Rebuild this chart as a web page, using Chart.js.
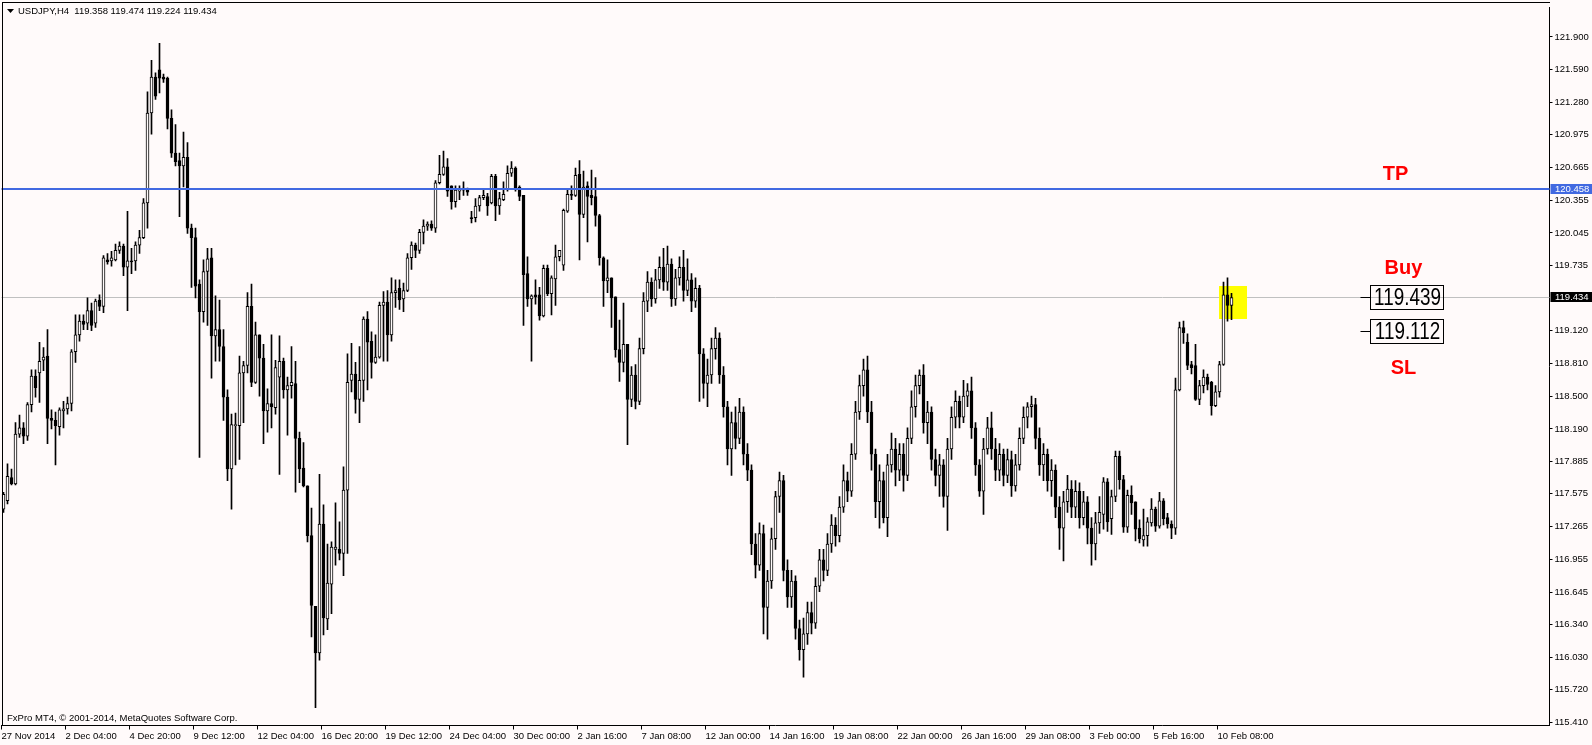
<!DOCTYPE html>
<html><head><meta charset="utf-8">
<script src="https://cdn.jsdelivr.net/npm/chart.js@4.4.1/dist/chart.umd.min.js"></script>
<style>html,body{margin:0;padding:0;background:#FFFAFA;overflow:hidden}canvas{display:block}</style>
</head><body><canvas id="c" width="1592" height="745"></canvas>
<script>
const symbolTitle = 'USDJPY,H4';
const copyrightText = 'FxPro MT4, \u00A9 2001-2014, MetaQuotes Software Corp.';
const timeLabels = ['27 Nov 2014','2 Dec 04:00','4 Dec 20:00','9 Dec 12:00','12 Dec 04:00','16 Dec 20:00','19 Dec 12:00','24 Dec 04:00','30 Dec 00:00','2 Jan 16:00','7 Jan 08:00','12 Jan 00:00','14 Jan 16:00','19 Jan 08:00','22 Jan 00:00','26 Jan 16:00','29 Jan 08:00','3 Feb 00:00','5 Feb 16:00','10 Feb 08:00'];
const yTicks = [121.900,121.590,121.280,120.975,120.665,120.355,120.045,119.735,119.120,118.810,118.500,118.190,117.885,117.575,117.265,116.955,116.645,116.340,116.030,115.720,115.410];
const tpLevel = 120.458;
const bidLevel = 119.434;
const priceBoxes = [{value:119.439, bar:342},{value:119.112, bar:342}];
const textNotes = [{text:'TP', bar:348, price:120.594},{text:'Buy', bar:350, price:119.708},{text:'SL', bar:350, price:118.76}];
const highlight = {fromBar:304, toBar:311, top:119.543, bottom:119.228};

const opensA = [117.43,117.51,117.73,117.67,118.14,118.20,118.12,118.42,118.69,118.72,
118.84,118.88,118.29,118.27,118.21,118.36,118.38,118.43,118.92,119.08,
119.21,119.19,119.31,119.19,119.41,119.35,119.79,119.78,119.79,119.88,
119.92,119.72,119.78,119.78,119.93,120.00,120.33,121.18,121.52,121.59,
121.52,121.51,121.13,120.80,120.73,120.68,120.76,120.09,120.00,119.56,
119.30,119.68,119.81,119.07,119.13,118.97,118.49,117.81,118.22,118.22,
118.72,118.79,119.35,118.63,119.08,118.86,118.36,118.43,118.39,118.68,
118.83,118.56,118.60,118.62,118.10,117.82,117.65,117.18,116.51,116.07,
117.29,116.39,116.72,117.05,117.05,117.01,117.61,118.65,118.71,118.47,
118.65,119.23,119.02,118.82,118.87,119.36,119.39,119.08,119.48,119.52,
119.42,119.50,119.81,119.93,119.88,120.05,120.11,120.13,120.09,120.52,
120.60,120.67,120.49,120.34,120.44,120.45,120.45,120.19,120.19,120.30,
120.38,120.39,120.33,120.58,120.30,120.36,120.46,120.61,120.66,120.48,
120.40,119.66,119.42,119.46,119.46,119.26,119.71,119.47,119.61,119.82,
119.74,120.25,120.41,120.40,120.60,120.22,120.49,120.40,120.39,120.21,
119.81,119.59,119.62,119.44,118.94,118.82,118.99];
const highsA = [117.59,117.86,117.81,118.25,118.32,118.25,118.44,118.75,118.75,119.01,
118.96,119.13,118.37,118.35,118.39,118.45,118.49,118.94,119.27,119.27,
119.27,119.43,119.38,119.42,119.46,119.83,119.85,119.87,119.94,119.96,
119.94,120.25,119.90,119.96,120.07,120.37,121.38,121.68,121.56,121.84,
121.55,121.52,121.21,121.07,120.80,121.00,120.90,120.13,120.09,119.60,
119.79,119.90,119.90,119.45,119.41,119.13,118.56,118.33,118.34,118.88,
118.83,119.48,119.56,119.20,119.08,118.99,118.57,119.08,118.84,119.07,
118.86,118.68,118.97,118.83,118.16,118.06,117.65,117.44,116.51,117.76,
117.47,117.10,117.12,117.49,117.31,117.83,118.90,119.00,118.82,118.97,
119.25,119.30,119.11,119.08,119.39,119.49,119.50,119.62,119.60,119.60,
119.57,119.85,119.96,119.95,120.08,120.17,120.15,120.16,120.54,120.78,
120.82,120.75,120.49,120.49,120.49,120.53,120.47,120.25,120.37,120.40,
120.45,120.42,120.60,120.60,120.43,120.53,120.68,120.72,120.67,120.49,
120.40,119.82,119.46,119.60,119.53,119.74,119.74,119.64,119.93,119.88,
120.27,120.45,120.49,120.66,120.73,120.63,120.53,120.64,120.57,120.22,
119.82,119.79,119.62,119.44,119.22,119.38,118.99];
const lowsA = [117.40,117.48,117.66,117.66,118.11,118.05,118.08,118.35,118.49,118.44,
118.74,118.05,118.19,117.85,118.13,118.20,118.33,118.36,118.82,119.02,
119.13,119.13,119.12,119.15,119.31,119.29,119.75,119.73,119.78,119.85,
119.64,119.31,119.66,119.69,119.85,119.99,120.09,120.98,121.31,121.37,
121.47,121.03,120.76,120.68,120.20,120.48,120.04,119.53,119.43,117.92,
119.20,119.17,118.67,118.83,118.83,118.27,117.70,117.43,117.85,117.90,
118.25,118.72,118.59,118.62,118.50,118.05,118.16,118.20,118.33,117.76,
118.48,118.13,118.48,117.59,117.68,117.64,117.12,116.22,115.55,116.00,
116.24,116.29,116.44,116.90,116.95,116.80,117.01,118.54,118.34,118.25,
118.45,118.56,118.67,118.81,118.86,118.83,118.83,119.02,119.34,119.32,
119.30,119.49,119.70,119.81,119.85,119.94,120.07,120.07,120.05,120.51,
120.59,120.39,120.27,120.29,120.36,120.40,120.40,120.14,120.15,120.25,
120.36,120.21,120.32,120.16,120.22,120.35,120.44,120.58,120.44,120.35,
119.17,119.35,118.83,119.37,119.22,119.25,119.45,119.27,119.36,119.78,
119.69,120.24,120.36,120.39,119.79,120.19,119.96,120.31,120.11,119.74,
119.35,119.48,119.15,118.87,118.64,118.73,118.04];
const closesA = [117.57,117.74,117.67,118.14,118.20,118.12,118.42,118.69,118.58,118.83,
118.87,118.29,118.27,118.22,118.37,118.38,118.43,118.92,119.08,119.21,
119.18,119.31,119.17,119.40,119.35,119.81,119.77,119.81,119.88,119.92,
119.72,119.78,119.77,119.93,120.00,120.33,121.18,121.52,121.34,121.51,
121.50,121.13,120.80,120.72,120.68,120.76,120.09,120.00,119.54,119.30,
119.68,119.80,119.07,119.13,118.97,118.49,117.81,118.23,118.23,118.72,
118.79,119.35,118.63,119.08,118.86,118.36,118.43,118.40,118.77,118.83,
118.56,118.60,118.63,118.10,117.81,117.65,117.18,116.52,116.07,117.29,
116.40,116.73,117.07,117.07,117.01,117.61,118.63,118.71,118.47,118.65,
119.23,119.01,118.82,118.87,119.36,119.39,119.08,119.48,119.50,119.41,
119.50,119.81,119.93,119.88,120.05,120.11,120.13,120.09,120.52,120.60,
120.67,120.44,120.34,120.45,120.45,120.47,120.43,120.18,120.30,120.38,
120.40,120.30,120.58,120.30,120.37,120.41,120.61,120.66,120.47,120.39,
119.65,119.42,119.45,119.44,119.26,119.71,119.47,119.62,119.82,119.88,
120.26,120.41,120.40,120.59,120.22,120.48,120.39,120.38,120.21,119.81,
119.59,119.62,119.43,118.94,118.82,118.99,118.47];
const opensB = [118.47,118.70,118.45,118.95,119.40,119.58,119.42,119.60,119.72,119.58,
119.75,119.42,119.62,119.72,119.50,119.60,119.40,119.52,118.90,118.62,
118.70,118.95,119.05,118.70,118.40,118.00,118.25,118.10,118.35,117.95,
117.80,117.10,116.90,117.20,116.50,116.75,117.15,117.55,117.70,116.85,
116.60,116.75,116.30,116.10,116.25,116.45,116.35,116.70,116.95,116.85,
117.10,117.28,117.18,117.45,117.70,117.60,117.95,118.35,118.60,118.75,
118.35,117.95,117.50,117.70,117.35,117.85,118.00,117.80,117.95,117.75,
118.10,118.40,118.60,118.70,118.25,118.35,117.90,117.75,117.85,117.55,
118.00,118.30,118.45,118.30,118.50,118.55,118.20,117.85,117.60,118.00,
118.20,118.00,117.80,117.95,117.75,117.90,117.65,117.85,118.10,118.30,
118.40,118.42,118.10,117.85,117.95,117.70,117.80,117.45,117.25,117.50,
117.62,117.45,117.60,117.35,117.50,117.25,117.10,117.30];
const highsB = [118.78,118.80,119.05,119.48,119.68,119.62,119.70,119.82,119.90,119.92,
119.80,119.70,119.82,119.88,119.80,119.66,119.62,119.55,118.95,118.85,
119.05,119.15,119.10,118.78,118.45,118.35,118.40,118.48,118.40,118.05,
117.85,117.20,117.30,117.28,116.85,117.25,117.60,117.78,117.75,116.95,
116.85,116.80,116.38,116.40,116.55,116.55,116.78,117.05,117.05,117.20,
117.38,117.35,117.55,117.85,117.78,118.05,118.45,118.70,118.85,118.88,
118.45,118.00,117.85,117.78,117.95,118.15,118.10,118.05,118.05,118.20,
118.55,118.70,118.75,118.80,118.45,118.40,118.00,117.95,117.90,118.10,
118.40,118.55,118.50,118.65,118.62,118.68,118.25,117.90,118.10,118.30,
118.35,118.10,118.05,118.00,118.00,117.98,117.95,118.20,118.40,118.44,
118.50,118.48,118.20,118.05,118.00,117.90,117.85,117.55,117.60,117.75,
117.70,117.70,117.68,117.60,117.55,117.35,117.40,117.55];
const lowsB = [118.40,118.38,118.42,118.90,119.30,119.35,119.38,119.52,119.50,119.50,
119.35,119.36,119.55,119.40,119.45,119.30,119.34,118.45,118.48,118.40,
118.62,118.85,118.62,118.30,117.85,117.75,118.00,118.05,117.85,117.70,
117.00,116.78,116.85,116.25,116.20,116.68,117.05,117.40,116.75,116.50,
116.50,116.20,116.00,115.84,116.15,116.25,116.30,116.65,116.75,116.80,
117.02,117.08,117.12,117.40,117.50,117.55,117.90,118.28,118.50,118.25,
117.80,117.35,117.25,117.30,117.17,117.78,117.65,117.70,117.60,117.70,
118.05,118.30,118.52,118.15,118.05,117.80,117.65,117.55,117.45,117.23,
117.90,118.20,118.20,118.25,118.40,118.10,117.75,117.55,117.38,117.95,
117.90,117.70,117.70,117.65,117.68,117.55,117.60,117.80,118.05,118.20,
118.30,118.00,117.75,117.70,117.60,117.55,117.35,117.05,116.94,117.40,
117.35,117.35,117.25,117.28,117.10,116.90,116.95,117.20];
const closesB = [118.70,118.45,118.95,119.40,119.58,119.42,119.60,119.72,119.58,119.75,
119.42,119.62,119.72,119.50,119.60,119.40,119.52,118.90,118.62,118.70,
118.95,119.05,118.70,118.40,118.00,118.25,118.10,118.35,117.95,117.80,
117.10,116.90,117.20,116.50,116.75,117.15,117.55,117.70,116.85,116.60,
116.75,116.30,116.10,116.25,116.45,116.35,116.70,116.95,116.85,117.10,
117.28,117.18,117.45,117.70,117.60,117.95,118.35,118.60,118.75,118.35,
117.95,117.50,117.70,117.35,117.85,118.00,117.80,117.95,117.75,118.10,
118.40,118.60,118.70,118.25,118.35,117.90,117.75,117.85,117.55,118.00,
118.30,118.45,118.30,118.50,118.55,118.20,117.85,117.60,118.00,118.20,
118.00,117.80,117.95,117.75,117.90,117.65,117.85,118.10,118.30,118.40,
118.42,118.10,117.85,117.95,117.70,117.80,117.45,117.25,117.50,117.62,
117.45,117.60,117.35,117.50,117.25,117.10,117.30,117.40];
const opensC = [117.38,117.69,117.34,117.55,117.93,117.71,117.26,117.56,117.50,117.25,117.14,117.18,117.30,117.43,117.27,117.51,117.35,117.29,117.25,118.56,119.15,119.01,118.80,118.79,118.47,118.60,118.68,118.63,118.41,118.54,118.80,119.46,119.358];
const highsC = [117.73,117.72,117.61,117.98,117.98,117.75,117.61,117.65,117.50,117.33,117.43,117.35,117.53,117.45,117.59,117.53,117.39,117.32,118.67,119.20,119.21,119.09,118.83,118.99,118.65,118.75,118.71,118.64,118.60,118.83,119.58,119.62,119.474];
const lowsC = [117.24,117.22,117.19,117.50,117.62,117.21,117.21,117.38,117.13,117.11,117.08,117.08,117.27,117.22,117.25,117.28,117.25,117.15,117.19,118.55,119.00,118.75,118.71,118.46,118.42,118.53,118.56,118.32,118.40,118.49,118.79,119.21,119.224];
const closesC = [117.69,117.31,117.55,117.93,117.71,117.26,117.56,117.49,117.24,117.15,117.18,117.31,117.43,117.27,117.51,117.34,117.29,117.25,118.56,119.15,119.10,118.79,118.77,118.47,118.60,118.68,118.61,118.41,118.54,118.80,119.46,119.36,119.434];
const opens = opensA.concat(opensB, opensC);
const highs = highsA.concat(highsB, highsC);
const lows = lowsA.concat(lowsB, lowsC);
const closes = closesA.concat(closesB, closesC);

const BG = '#FFFAFA';
const SLOTS = 387;
const FONT = 'Liberation Sans';
const categories = Array.from({length: SLOTS}, (_, i) => (i % 16 === 0 && i / 16 < timeLabels.length) ? timeLabels[i / 16] : '');
const bodyData = categories.map((_, i) => (i < opens.length) ? [opens[i], closes[i]] : null);
const wickData = categories.map((_, i) => (i < opens.length) ? [lows[i], highs[i]] : null);
const bodyColors = categories.map((_, i) => (i < opens.length && closes[i] >= opens[i]) ? BG : '#000000');

const PX_PER = 106.4, Y_REF = 121.9, Y_REF_PX = 32, TOP = 2.5, BOTTOM = 725.5;
const yMax = Y_REF + (Y_REF_PX - TOP) / PX_PER;
const yMin = Y_REF - (BOTTOM - Y_REF_PX) / PX_PER;

const overlay = {
  id: 'overlay',
  beforeDraw(chart) {
    const c = chart.ctx; c.save(); c.fillStyle = BG; c.fillRect(0, 0, chart.width, chart.height); c.restore();
  },
  beforeDatasetsDraw(chart) {
    const c = chart.ctx, xs = chart.scales.x, ys = chart.scales.y, a = chart.chartArea;
    c.save();
    const yb = Math.round(ys.getPixelForValue(bidLevel) - 0.5) + 0.5;
    c.strokeStyle = '#C0C0C0'; c.lineWidth = 1;
    c.beginPath(); c.moveTo(a.left, yb); c.lineTo(a.right, yb); c.stroke();
    const x1 = Math.round(xs.getPixelForValue(highlight.fromBar) - 0.5);
    const x2 = Math.round(xs.getPixelForValue(highlight.toBar) - 0.5);
    const y1 = Math.round(ys.getPixelForValue(highlight.top));
    const y2 = Math.round(ys.getPixelForValue(highlight.bottom));
    c.fillStyle = '#FFFF00'; c.fillRect(x1, y1, x2 - x1, y2 - y1);
    c.restore();
  },
  afterDatasetsDraw(chart) {
    const c = chart.ctx, xs = chart.scales.x, ys = chart.scales.y, a = chart.chartArea;
    c.save();
    const yt = Math.round(ys.getPixelForValue(tpLevel));
    c.fillStyle = '#4169E1'; c.fillRect(a.left, yt - 1, a.right - a.left, 2);
    c.fillStyle = '#FF0000'; c.font = 'bold 20px ' + FONT; c.textAlign = 'center'; c.textBaseline = 'middle';
    textNotes.forEach(n => c.fillText(n.text, xs.getPixelForValue(n.bar), ys.getPixelForValue(n.price)));
    priceBoxes.forEach(b => {
      const cy = Math.round(ys.getPixelForValue(b.value));
      const left = Math.round(xs.getPixelForValue(b.bar) - 1.5) + 0.5;
      const w = 73, h = 24;
      c.strokeStyle = '#000'; c.lineWidth = 1;
      c.strokeRect(left, cy - 12 + 0.5, w, h);
      c.beginPath(); c.moveTo(left - 10, cy + 0.5); c.lineTo(left, cy + 0.5); c.stroke();
      c.save(); c.translate(left + w / 2 + 0.5, cy + 1.5); c.scale(0.82, 1);
      c.fillStyle = '#000'; c.font = '23px ' + FONT; c.textAlign = 'center'; c.textBaseline = 'middle';
      c.fillText(b.value.toFixed(3), 0, 0); c.restore();
    });
    c.restore();
  },
  afterDraw(chart) {
    const c = chart.ctx, ys = chart.scales.y, a = chart.chartArea;
    c.save();
    const boxes = [{v: tpLevel, bg: '#4169E1'}, {v: bidLevel, bg: '#000000'}];
    c.font = '9.5px ' + FONT; c.textBaseline = 'middle'; c.textAlign = 'left';
    boxes.forEach(b => {
      const y = Math.round(ys.getPixelForValue(b.v));
      c.fillStyle = b.bg; c.fillRect(a.right + 1, y - 5, chart.width - a.right - 1, 10);
      c.fillStyle = '#FFFFFF'; c.fillText(b.v.toFixed(3), a.right + 5.5, y);
    });
    c.fillStyle = '#000';
    c.fillRect(2, 2, 1, Math.round(a.bottom) - 2);
    c.fillRect(2, 2, Math.round(a.right) - 2, 1);
    const last = opens.length - 1;
    c.beginPath(); c.moveTo(7, 9); c.lineTo(14, 9); c.lineTo(10.5, 13); c.closePath(); c.fill();
    c.font = '9.5px ' + FONT; c.textBaseline = 'middle'; c.textAlign = 'left';
    const hdr = symbolTitle + '  ' + [opens[last], highs[last], lows[last], closes[last]].map(v => v.toFixed(3)).join(' ');
    c.fillText(hdr, 18, 11);
    c.fillText(copyrightText, 7, 718);
    c.restore();
  }
};

new Chart(document.getElementById('c'), {
  type: 'bar',
  data: {
    labels: categories,
    datasets: [
      {label: 'body', data: bodyData, backgroundColor: bodyColors, borderColor: '#000000', borderWidth: 1, borderSkipped: false, barThickness: 3, grouped: false, minBarLength: 1, order: 0},
      {label: 'wick', data: wickData, backgroundColor: '#000000', borderWidth: 0, barThickness: 1, grouped: false, order: 1}
    ]
  },
  options: {
    responsive: false, animation: false, devicePixelRatio: 1, events: [],
    layout: {padding: {left: 1.5, top: TOP, right: 0, bottom: 0}},
    plugins: {legend: {display: false}, tooltip: {enabled: false}},
    scales: {
      x: {
        type: 'category', offset: true,
        afterFit: s => { s.height = 745 - BOTTOM; },
        ticks: {autoSkip: false, maxRotation: 0, minRotation: 0, align: 'start', padding: 1, labelOffset: -2, color: '#000', font: {family: FONT, size: 9.5}},
        grid: {offset: true, drawOnChartArea: false, drawTicks: true, tickLength: 4, color: ctx => categories[ctx.index] ? '#000' : 'rgba(0,0,0,0)'},
        border: {display: true, color: '#000', width: 1}
      },
      y: {
        type: 'linear', position: 'right', min: yMin, max: yMax,
        afterBuildTicks: s => { s.ticks = yTicks.map(v => ({value: v})); },
        afterFit: s => { s.width = 42.5; },
        ticks: {autoSkip: false, color: '#000', padding: 2, font: {family: FONT, size: 9.5}, callback: v => Number(v).toFixed(3)},
        grid: {drawOnChartArea: false, drawTicks: true, tickLength: 3, color: '#000'},
        border: {display: true, color: '#000', width: 1}
      }
    }
  },
  plugins: [overlay]
});
</script>
</body></html>
